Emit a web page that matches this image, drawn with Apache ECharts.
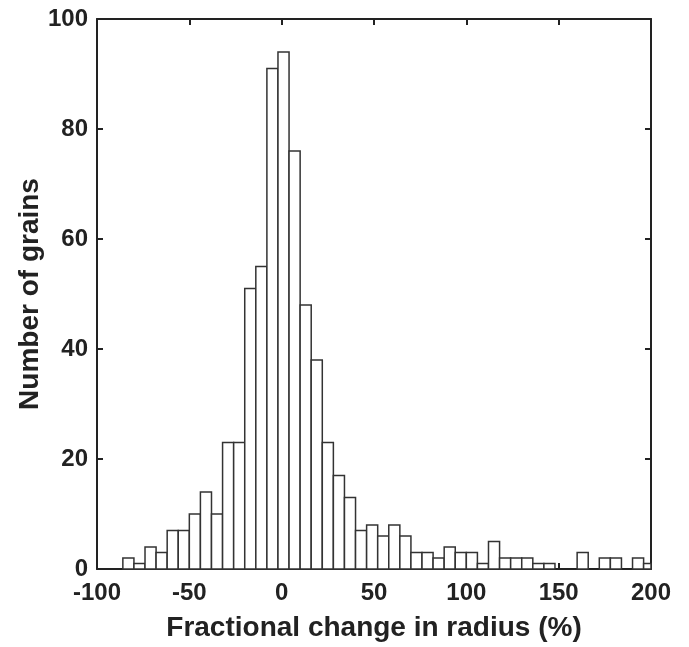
<!DOCTYPE html>
<html>
<head>
<meta charset="utf-8">
<script src="https://cdn.jsdelivr.net/npm/echarts@6/dist/echarts.min.js"></script>
<style>
html,body{margin:0;padding:0;background:#fff;}
#chart{width:689px;height:647px;}
</style>
</head>
<body>
<div id="chart"></div>
<script>
// Histogram bins (left edges, % change in radius), width 6
const binLeft = [-86,-80,-74,-68,-62,-56,-50,-44,-38,-32,-26,-20,-14,-8,-2,4,10,16,22,28,34,40,46,52,58,64,70,76,82,88,94,100,106,112,118,124,130,136,142,148,154,160,166,172,178,184,190,196];
const binWidth = 6;
const counts = [2,1,4,3,7,7,10,14,10,23,23,51,55,91,94,76,48,38,23,17,13,7,8,6,8,6,3,3,2,4,3,3,1,5,2,2,2,1,1,0,0,3,0,2,2,0,2,1];
const xTicks = [-100,-50,0,50,100,150,200];
const yTicks = [0,20,40,60,80,100];

const data = binLeft.map((l, i) => [l, l + binWidth, counts[i]]);

const FONT = 'Liberation Sans';
const labelStyle = {fontFamily: FONT, fontWeight: 'bold', fontSize: 24, color: '#222'};
const lineStyle = {color: '#222', width: 2};

const chart = echarts.init(document.getElementById('chart'), null, {renderer: 'canvas'});
chart.setOption({
  animation: false,
  backgroundColor: '#fff',
  grid: {left: 97, right: 38, top: 19, bottom: 74, containLabel: false},
  xAxis: [{
    type: 'value', min: xTicks[0], max: xTicks[xTicks.length-1], interval: 50, position: 'bottom',
    axisLine: {show: true, onZero: false, lineStyle: lineStyle},
    axisTick: {show: true, inside: true, length: 6, lineStyle: lineStyle},
    axisLabel: Object.assign({margin: 12}, labelStyle),
    splitLine: {show: false},
    name: 'Fractional change in radius (%)', nameLocation: 'middle', nameGap: 45, nameMoveOverlap: false,
    nameTextStyle: {fontFamily: FONT, fontWeight: 'bold', fontSize: 28, color: '#222'}
  }, {
    type: 'value', min: xTicks[0], max: xTicks[xTicks.length-1], interval: 50, position: 'top',
    axisLine: {show: true, onZero: false, lineStyle: lineStyle},
    axisTick: {show: true, inside: true, length: 6, lineStyle: lineStyle},
    axisLabel: {show: false}, splitLine: {show: false}
  }],
  yAxis: [{
    type: 'value', min: yTicks[0], max: yTicks[yTicks.length-1], interval: 20, position: 'left',
    axisLine: {show: true, onZero: false, lineStyle: lineStyle},
    axisTick: {show: true, inside: true, length: 6, lineStyle: lineStyle},
    axisLabel: Object.assign({margin: 9}, labelStyle),
    splitLine: {show: false},
    name: 'Number of grains', nameLocation: 'middle', nameGap: 53, nameRotate: 90, nameMoveOverlap: false,
    nameTextStyle: {fontFamily: FONT, fontWeight: 'bold', fontSize: 28, color: '#222'}
  }, {
    type: 'value', min: yTicks[0], max: yTicks[yTicks.length-1], interval: 20, position: 'right',
    axisLine: {show: true, onZero: false, lineStyle: lineStyle},
    axisTick: {show: true, inside: true, length: 6, lineStyle: lineStyle},
    axisLabel: {show: false}, splitLine: {show: false}
  }],
  series: [{
    type: 'custom',
    xAxisIndex: 0, yAxisIndex: 0,
    data: data,
    renderItem: function (params, api) {
      if (api.value(2) <= 0) return null;
      const p0 = api.coord([api.value(0), api.value(2)]);
      const p1 = api.coord([api.value(1), 0]);
      const cs = params.coordSys;
      const rect = echarts.graphic.clipRectByRect(
        {x: p0[0], y: p0[1], width: p1[0] - p0[0], height: p1[1] - p0[1]},
        {x: cs.x, y: cs.y, width: cs.width, height: cs.height});
      if (!rect) return null;
      return {
        type: 'rect', shape: rect,
        style: {fill: '#fff', stroke: '#333', lineWidth: 1.5}
      };
    }
  }]
});
</script>
</body>
</html>
